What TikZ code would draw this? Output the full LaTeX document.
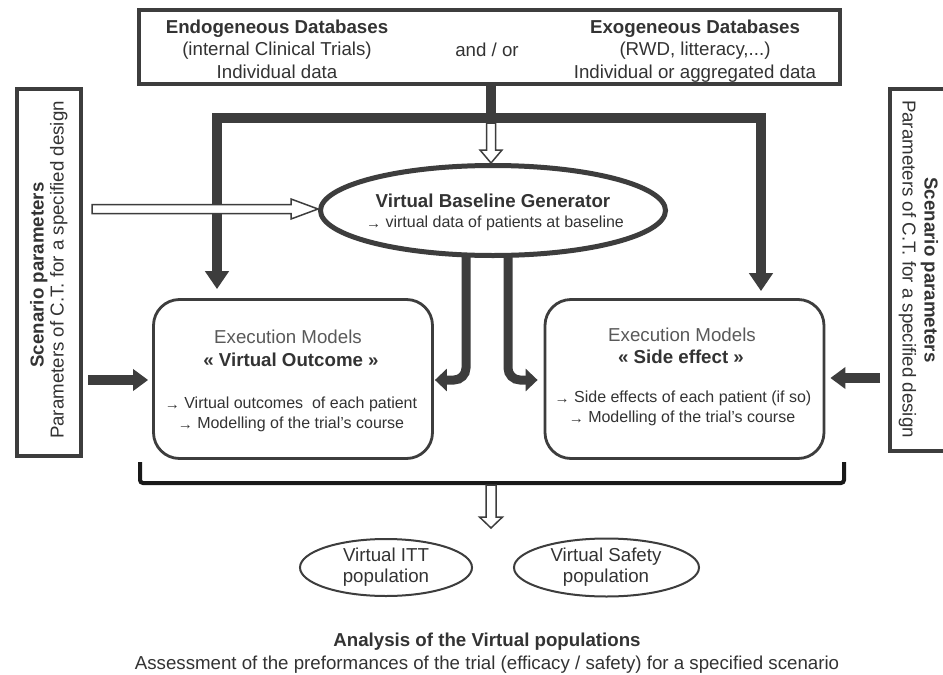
\documentclass[tikz,border=0pt]{standalone}
\usepackage{fontspec}
\setmainfont{Liberation Sans}
\usetikzlibrary{arrows.meta,calc,shapes.geometric}
\definecolor{ln}{HTML}{3D3D3D}
\definecolor{tx}{HTML}{333333}
\definecolor{txl}{HTML}{595959}
\newcommand{\sarr}{\raisebox{-1pt}{\fontsize{15}{17}\selectfont →}}
\newcommand{\fbig}{\fontsize{18.7}{22}\selectfont}
\newcommand{\fsmall}{\fontsize{16}{19}\selectfont}
\newcommand{\hollowdown}[5]{%
  \draw[hollow] ($(#1)+(-#3,0)$) -- ($(#2)+(-#3,-#5)$) -- ($(#2)+(-#4,-#5)$) -- (#2)
    -- ($(#2)+(#4,-#5)$) -- ($(#2)+(#3,-#5)$) -- ($(#1)+(#3,0)$) -- cycle;}
\newcommand{\hollowright}[5]{%
  \draw[hollow] ($(#1)+(0,-#3)$) -- ($(#2)+(-#5,-#3)$) -- ($(#2)+(-#5,-#4)$) -- (#2)
    -- ($(#2)+(-#5,#4)$) -- ($(#2)+(-#5,#3)$) -- ($(#1)+(0,#3)$) -- cycle;}
\tikzset{
  txt/.style={text=tx, font=\fbig, inner sep=0pt, anchor=base},
  btxt/.style={text=tx, font=\fbig\bfseries, inner sep=0pt, anchor=base},
  ltxt/.style={text=txl, font=\fbig, inner sep=0pt, anchor=base},
  stxt/.style={text=tx, font=\fsmall, inner sep=0pt, anchor=base},
  frame/.style={draw=ln, line width=4pt, fill=white, inner sep=0pt},
  execbox/.style={draw=ln, line width=2.8pt, rounded corners=26pt, fill=white,
    minimum width=279pt, minimum height=159pt, inner sep=0pt},
  thickconn/.style={draw=ln, line width=10pt},
  fatarrow/.style={thickconn, line join=miter, -{Triangle[length=18pt,width=23pt]}},
  midarrow/.style={draw=ln, line width=9pt, rounded corners=12pt, -{Triangle[length=12pt,width=22pt]}},
  sidearrow/.style={draw=ln, line width=10pt, -{Triangle[length=15pt,width=21pt]}},
  hollow/.style={draw=ln, line width=1.5pt, fill=white, line join=miter},
  popell/.style={ellipse, draw=ln, line width=2pt, inner sep=0pt},
  bracket/.style={draw=black!90, line width=4pt, rounded corners=3pt}
}
\begin{document}
\begin{tikzpicture}[x=1pt,y=-1pt]
\useasboundingbox (0,0) rectangle (943,675);
\fill[white] (0,0) rectangle (943,675);

% ---------- top database box
\node[frame, minimum width=701pt, minimum height=74pt] (db) at (489.5,47) {};
\node[btxt] (endo1) at (277,33.5) {Endogeneous Databases};
\node[txt]  (endo2) at (277,55.5) {(internal Clinical Trials)};
\node[txt]  (endo3) at (277,78.5) {Individual data};
\node[txt]  (andor) at (487,56.5) {and / or};
\node[btxt] (exo1) at (695,33.5) {Exogeneous Databases};
\node[txt]  (exo2) at (695,55.5) {(RWD, litteracy,...)};
\node[txt]  (exo3) at (695,78.5) {Individual or aggregated data};

% ---------- side boxes
\node[frame, minimum width=64pt, minimum height=367pt] (spL) at (49,272.5) {};
\node[btxt, rotate=90] (spL1) at (43.5,275) {Scenario parameters};
\node[txt, rotate=90]  (spL2) at (63.5,270) {Parameters of C.T. for a specified design};

\node[frame, minimum width=80pt, minimum height=362pt] (spR) at (930,270) {};
\node[btxt, rotate=-90] (spR1) at (924.5,270) {Scenario parameters};
\node[txt, rotate=-90]  (spR2) at (902.5,269) {Parameters of C.T. for a specified design};

% ---------- virtual baseline generator
\node[ellipse, draw=ln, line width=5pt, fill=white, minimum width=345pt, minimum height=90pt, inner sep=0pt]
  (vbg) at (493,210.5) {};
\node[btxt] (vbg1) at (493,207.5) {Virtual Baseline Generator};
\node[stxt] (vbg2) at (495,227) {\sarr{} virtual data of patients at baseline};

% ---------- execution model boxes
\node[execbox] (eo) at (293,379) {};
\node[ltxt] (eo1) at (288,343.5) {Execution Models};
\node[btxt] (eo2) at (291,366.5) {« Virtual Outcome »};
\node[stxt] (eo3) at (291,408.5) {\sarr{} Virtual outcomes~ of each patient};
\node[stxt] (eo4) at (291,428.5) {\sarr{} Modelling of the trial’s course};

\node[execbox] (es) at (684.5,379) {};
\node[ltxt] (es1) at (682,341.5) {Execution Models};
\node[btxt] (es2) at (681,363.5) {« Side effect »};
\node[stxt] (es3) at (683,402.5) {\sarr{} Side effects of each patient (if so)};
\node[stxt] (es4) at (682,422.5) {\sarr{} Modelling of the trial’s course};

% ---------- thick distribution bar from databases
\coordinate (barM) at ($(db.south)+(1.5,32)$);
\draw[thickconn] ($(db.south)+(1.5,0)$) -- (barM);
\draw[fatarrow] (barM) -| ($(eo.north)+(-76,-9)$);
\draw[fatarrow] (barM) -| ($(es.north)+(76.5,-7)$);

% hollow arrow into the generator
\coordinate (hA) at ($(barM)+(0,5)$);
\coordinate (hB) at (vbg.north -| barM);
\hollowdown{hA}{hB}{4.5}{11}{13}

% hollow arrow from left scenario box
\coordinate (hL) at (92,209);
\coordinate (hLt) at (vbg.west |- hL);
\hollowright{hL}{hLt}{4.5}{10}{27}

% ---------- arrows from generator to models
\draw[midarrow] ($(vbg.south)+(-27,-4)$) |- ($(eo.east)+(1,1)$);
\draw[midarrow] ($(vbg.south)+(15,-4)$) |- ($(es.west)+(-6,1)$);

% ---------- scenario arrows
\draw[sidearrow] ($(spL.east)+(5,107.5)$) -- ($(eo.west)+(-4,1)$);
\draw[sidearrow] ($(spR.west)+(-8,108)$) -- ($(es.east)+(5,-1)$);

% ---------- bracket and output arrow
\coordinate (brL1) at (140,462);
\coordinate (brL2) at (140,483);
\coordinate (brR2) at (844,483);
\coordinate (brR1) at (844,462);
\draw[bracket] (brL1) -- (brL2) -- (brR2) -- (brR1);
\coordinate (bA) at (491,485);
\coordinate (bB) at (491,528);
\hollowdown{bA}{bB}{5}{11.5}{11}

% ---------- populations
\node[popell, minimum width=172pt, minimum height=57pt] (itt) at (386,567.5) {};
\node[txt] (itt1) at (386,561.5) {Virtual ITT};
\node[txt] (itt2) at (386,582.5) {population};
\node[popell, minimum width=185pt, minimum height=58pt] (saf) at (606.5,567.5) {};
\node[txt] (saf1) at (606,561.5) {Virtual Safety};
\node[txt] (saf2) at (606,582.5) {population};

% ---------- analysis
\node[btxt] (ana1) at (487,646.5) {Analysis of the Virtual populations};
\node[txt]  (ana2) at (487,669.5) {Assessment of the preformances of the trial (efficacy / safety) for a specified scenario};
\end{tikzpicture}
\end{document}
